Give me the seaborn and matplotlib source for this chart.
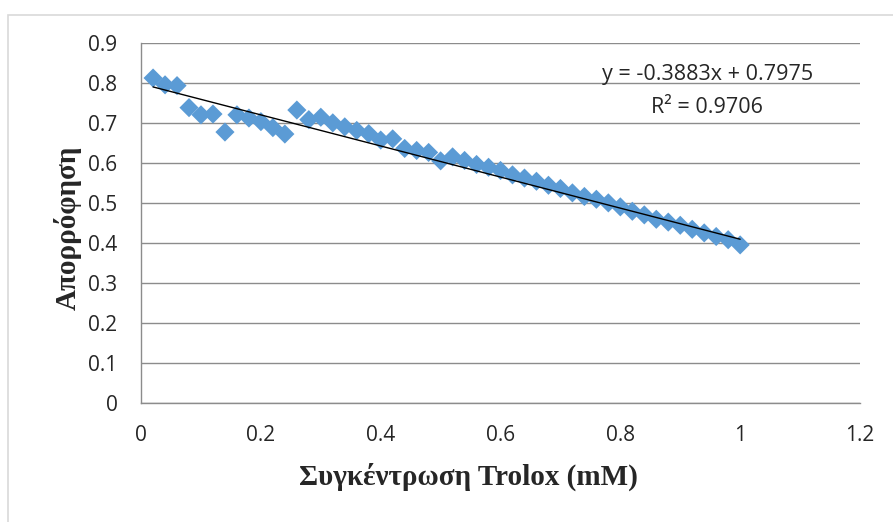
import numpy as np
import pandas as pd
import matplotlib
matplotlib.use('Agg')
import matplotlib.pyplot as plt
import seaborn as sns
from matplotlib.patches import Rectangle

# ========== data ==========
conc = [0.02, 0.04, 0.06, 0.08, 0.10, 0.12, 0.14, 0.16, 0.18, 0.20,
        0.22, 0.24, 0.26, 0.28, 0.30, 0.32, 0.34, 0.36, 0.38, 0.40,
        0.42, 0.44, 0.46, 0.48, 0.50, 0.52, 0.54, 0.56, 0.58, 0.60,
        0.62, 0.64, 0.66, 0.68, 0.70, 0.72, 0.74, 0.76, 0.78, 0.80,
        0.82, 0.84, 0.86, 0.88, 0.90, 0.92, 0.94, 0.96, 0.98, 1.00]
absorb = [0.812, 0.795, 0.793, 0.738, 0.720, 0.722, 0.677, 0.720, 0.712, 0.703,
          0.688, 0.672, 0.732, 0.708, 0.714, 0.700, 0.690, 0.681, 0.673, 0.657,
          0.660, 0.636, 0.631, 0.626, 0.605, 0.615, 0.606, 0.596, 0.589, 0.581,
          0.570, 0.562, 0.554, 0.544, 0.536, 0.525, 0.516, 0.509, 0.500, 0.490,
          0.479, 0.470, 0.459, 0.452, 0.444, 0.434, 0.425, 0.416, 0.408, 0.395]
slope = -0.3883
intercept = 0.7975
r2 = 0.9706
x_ticks = [0, 0.2, 0.4, 0.6, 0.8, 1, 1.2]
y_ticks = [0, 0.1, 0.2, 0.3, 0.4, 0.5, 0.6, 0.7, 0.8, 0.9]

df = pd.DataFrame({'conc': conc, 'absorb': absorb})
trend = pd.DataFrame({'conc': [conc[0], conc[-1]]})
trend['fit'] = slope * trend['conc'] + intercept

# ========== style ==========
sns.set_style('white')
plt.rcParams['font.family'] = ['Open Sans', 'DejaVu Sans']
C_BLUE = '#5B9BD5'
C_GRID = '#8C8C8C'
SERIF = ['Liberation Serif', 'DejaVu Serif']

fig = plt.figure(figsize=(8.93, 5.22), dpi=100)
ax = fig.add_axes([0.158, 0.228, 0.805, 0.690])

# outer chart border
fig.patches.append(Rectangle((8 / 893, -0.05), 1.1, 1 - 15 / 522 + 0.05,
                             transform=fig.transFigure, fill=False,
                             edgecolor='#D9D9D9', linewidth=1.2))

sns.scatterplot(data=df, x='conc', y='absorb', marker='D', s=95,
                color=C_BLUE, edgecolor='none', linewidth=0, ax=ax, zorder=3)
sns.lineplot(data=trend, x='conc', y='fit', color='black', linewidth=1.0,
             ax=ax, zorder=4)

ax.set_xlim(0, 1.2)
ax.set_ylim(0, 0.9)
ax.set_xticks(x_ticks)
ax.set_yticks(y_ticks)
ax.set_xticklabels([f'{v:g}' for v in x_ticks])
ax.set_yticklabels([f'{v:g}' for v in y_ticks])
ax.grid(axis='y', color=C_GRID, linewidth=1.0)
ax.set_axisbelow(True)
for s in ['top', 'right']:
    ax.spines[s].set_visible(False)
for s in ['left', 'bottom']:
    ax.spines[s].set_color(C_GRID)
    ax.spines[s].set_linewidth(1.0)
ax.tick_params(axis='both', which='both', length=5, color=C_GRID,
               labelsize=15, direction='out')
ax.tick_params(axis='y', pad=12)
ax.tick_params(axis='x', pad=11)

ax.text(0.945, 0.82, f'y = {slope:.4f}x + {intercept:.4f}', ha='center',
        va='center', fontsize=15.5)
ax.text(0.945, 0.7375, f'R² = {r2:.4f}', ha='center', va='center',
        fontsize=15.5)

ax.set_xlabel('Συγκέντρωση Trolox (mM)', fontsize=21, fontweight='bold',
              family=SERIF)
ax.set_ylabel('Απορρόφηση', fontsize=21, fontweight='bold', family=SERIF)
ax.xaxis.set_label_coords(0.455, -0.165)
ax.yaxis.set_label_coords(-0.083, 0.485)

fig.savefig('out.png', dpi=100)
